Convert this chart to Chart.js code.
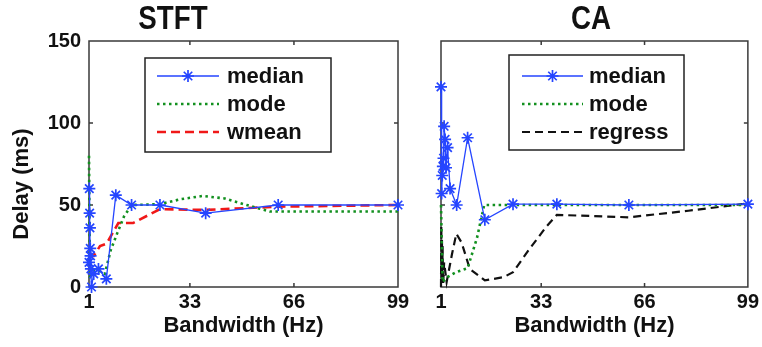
<!DOCTYPE html>
<html><head><meta charset="utf-8">
<script src="https://cdn.jsdelivr.net/npm/chart.js@4.4.0/dist/chart.umd.min.js"></script>
<style>
html,body{margin:0;padding:0;background:#fff;}
#wrap{position:relative;width:762px;height:347px;overflow:hidden;background:#fff;}
#c1{position:absolute;left:0;top:0;}
#c2{position:absolute;left:420px;top:0;}
</style></head><body>
<div id="wrap"><canvas id="c1" width="420" height="347"></canvas><canvas id="c2" width="342" height="347"></canvas></div>
<script>
// ---- data ----
const xTicks = [1, 33, 66, 99];
const yTicks = [0, 50, 100, 150];

const stftMedianX = [1, 1.1, 1.2, 1.3, 1.4, 1.5, 1.6, 1.8, 2.5, 4, 6.5, 9.5, 14.5, 23.5, 38, 61, 99];
const stftMedianY = [15, 60, 45, 36, 23.5, 19, 11, 0, 8, 11, 5, 56, 50, 50, 45, 50, 50];
const stftModeX = [1, 1.3, 2, 4, 6, 7.9, 10, 12.1, 14.5, 23.5, 30, 37, 44, 51, 58.4, 99];
const stftModeY = [80, 5, 10, 10, 8, 22.5, 33, 43, 50, 50.5, 53.5, 55.5, 54, 50, 46, 46];
const stftWmeanX = [1, 1.5, 2.5, 4.5, 6.6, 10.3, 15, 23.5, 38, 61, 99];
const stftWmeanY = [10, 20, 19, 25, 26.5, 39, 39, 47.5, 47, 49, 50];

const caMedianX = [1, 1.2, 1.4, 1.6, 1.8, 2, 2.3, 2.6, 3.1, 3.9, 6, 9.5, 15, 24, 38, 61, 99];
const caMedianY = [122, 57, 68, 73.5, 78.5, 98, 90, 72.7, 85, 60, 50, 91, 41, 50.5, 50.5, 50, 50.5];
const caModeX = [1, 1.5, 3, 5.8, 9.5, 12.5, 14.8, 99];
const caModeY = [50, 3, 6, 9, 11.5, 30, 50, 50];
const caRegressX = [1, 1.1, 1.2, 1.3, 1.4, 1.5, 1.7, 2, 2.8, 4.5, 5.9, 7.6, 10.2, 15, 21, 24, 29, 34.6, 38, 61, 80, 99];
const caRegressY = [0, 37, 5, 30, 3, 25, 2, 15, 3, 20, 32.5, 27, 11, 4, 6, 9, 22.5, 36.7, 44, 42.5, 46.5, 51];

const labelsSTFT = ['median', 'mode', 'wmean'];
const labelsCA = ['median', 'mode', 'regress'];
const titleSTFT = 'STFT';
const titleCA = 'CA';
const xTitle = 'Bandwidth (Hz)';
const yTitle = 'Delay (ms)';

// ---- helpers ----
const FAM = '"Liberation Sans", Arial, Helvetica, sans-serif';
const pts = (xs, ys) => xs.map((x, i) => ({x: x, y: ys[i]}));
const BLUE = '#2545ff', GREEN = '#12901f', RED = '#f01818', BLACK = '#111111';

function medianDs(label, data) {
  return {label, data, borderColor: BLUE, backgroundColor: BLUE, borderWidth: 1.3,
    pointStyle: 'star', pointRadius: 6, pointBorderWidth: 1.7, pointBorderColor: BLUE,
    pointHoverRadius: 6, tension: 0, clip: false};
}
function lineDs(label, data, color, dash, width) {
  return {label, data, borderColor: color, backgroundColor: color, borderWidth: width,
    borderDash: dash, pointRadius: 0, pointHoverRadius: 0, tension: 0, clip: false};
}

const framePlugin = {
  id: 'frame',
  beforeDatasetsDraw(chart) {
    const {ctx, chartArea: a, scales} = chart;
    ctx.save();
    ctx.strokeStyle = '#3a3a3a'; ctx.lineWidth = 1.5; ctx.setLineDash([]);
    ctx.strokeRect(a.left, a.top, a.right - a.left, a.bottom - a.top);
    const L = 4;
    ctx.beginPath();
    scales.x.ticks.forEach(t => {
      const p = scales.x.getPixelForValue(t.value);
      if (p <= a.left + 2 || p >= a.right - 2) return;
      ctx.moveTo(p, a.bottom); ctx.lineTo(p, a.bottom - L);
      ctx.moveTo(p, a.top); ctx.lineTo(p, a.top + L);
    });
    scales.y.ticks.forEach(t => {
      const p = scales.y.getPixelForValue(t.value);
      if (p <= a.top + 2 || p >= a.bottom - 2) return;
      ctx.moveTo(a.left, p); ctx.lineTo(a.left + L, p);
      ctx.moveTo(a.right, p); ctx.lineTo(a.right - L, p);
    });
    ctx.stroke();
    ctx.restore();
  }
};

const legendPlugin = {
  id: 'insideLegend',
  afterDatasetsDraw(chart, args, o) {
    const ctx = chart.ctx, a = chart.chartArea;
    const x0 = a.left + o.x, y0 = a.top + o.y;
    ctx.save();
    ctx.fillStyle = '#fff'; ctx.fillRect(x0, y0, o.w, o.h);
    ctx.strokeStyle = '#222'; ctx.lineWidth = 1.5; ctx.setLineDash([]);
    ctx.strokeRect(x0, y0, o.w, o.h);
    chart.data.datasets.forEach((ds, i) => {
      const y = y0 + o.rowTop + i * o.rowGap;
      ctx.setLineDash(ds.borderDash || []);
      ctx.strokeStyle = ds.borderColor; ctx.lineWidth = ds.borderWidth;
      ctx.beginPath(); ctx.moveTo(x0 + o.l0, y); ctx.lineTo(x0 + o.l1, y); ctx.stroke();
      ctx.setLineDash([]);
      if (ds.pointRadius > 0) {
        ctx.strokeStyle = ds.pointBorderColor; ctx.fillStyle = ds.pointBorderColor;
        ctx.lineWidth = ds.pointBorderWidth;
        Chart.helpers.drawPoint(ctx, {pointStyle: ds.pointStyle, radius: ds.pointRadius, borderWidth: ds.pointBorderWidth, rotation: 0}, x0 + (o.l0 + o.l1) / 2, y);
      }
      ctx.fillStyle = '#111';
      ctx.font = 'bold 22px ' + FAM;
      ctx.textBaseline = 'middle'; ctx.textAlign = 'left';
      ctx.fillText(ds.label, x0 + o.tx, y + 1);
    });
    ctx.restore();
  }
};

const textPlugin = {
  id: 'panelText',
  afterDraw(chart, args, o) {
    const ctx = chart.ctx;
    ctx.save();
    ctx.fillStyle = '#111';
    ctx.textAlign = 'center'; ctx.textBaseline = 'middle';
    if (o.title) {
      ctx.save();
      ctx.translate(o.tx, o.ty);
      ctx.scale(0.84, 1);
      ctx.font = 'bold 33px ' + FAM;
      ctx.fillText(o.title, 0, 0);
      ctx.restore();
    }
    if (o.ytitle) {
      ctx.translate(o.yx, o.yy);
      ctx.rotate(-Math.PI / 2);
      ctx.font = 'bold 22px ' + FAM;
      ctx.fillText(o.ytitle, 0, 0);
    }
    ctx.restore();
  }
};

function makeChart(id, datasets, cfg) {
  return new Chart(document.getElementById(id), {
    type: 'line',
    data: {datasets},
    plugins: [framePlugin, legendPlugin, textPlugin],
    options: {
      responsive: false, animation: false, devicePixelRatio: 1,
      layout: {padding: {left: 0, right: cfg.padRight, top: 41, bottom: 0}},
      plugins: {
        legend: {display: false}, tooltip: {enabled: false}, title: {display: false},
        insideLegend: cfg.legend,
        panelText: cfg.text
      },
      scales: {
        x: {
          type: 'linear', min: 1, max: 99,
          afterBuildTicks: s => { s.ticks = xTicks.map(v => ({value: v})); },
          afterFit: s => { s.height = 60; },
          grid: {display: false, drawTicks: false},
          border: {display: false},
          ticks: {font: {size: 20, weight: 'bold', family: FAM}, color: '#111', padding: 3, maxRotation: 0, autoSkip: false},
          title: {display: true, text: xTitle, color: '#111', font: {size: 22, weight: 'bold', family: FAM}, padding: {top: 0, bottom: 8}}
        },
        y: {
          type: 'linear', min: 0, max: 150,
          afterBuildTicks: s => { s.ticks = yTicks.map(v => ({value: v})); },
          afterFit: s => { s.width = cfg.yWidth; },
          grid: {display: false, drawTicks: false},
          border: {display: false},
          ticks: {display: cfg.yLabels, font: {size: 20, weight: 'bold', family: FAM}, color: '#111', padding: 8}
        }
      }
    }
  });
}

makeChart('c1', [
  medianDs(labelsSTFT[0], pts(stftMedianX, stftMedianY)),
  lineDs(labelsSTFT[1], pts(stftModeX, stftModeY), GREEN, [2.5, 3.5], 2.6),
  lineDs(labelsSTFT[2], pts(stftWmeanX, stftWmeanY), RED, [9, 5], 2.6)
], {
  padRight: 22, yWidth: 89, yLabels: true,
  legend: {x: 56, y: 17, w: 186, h: 94, rowTop: 18, rowGap: 28, l0: 12, l1: 74, tx: 82},
  text: {title: titleSTFT, tx: 173, ty: 20, ytitle: yTitle, yx: 22, yy: 184}
});

makeChart('c2', [
  medianDs(labelsCA[0], pts(caMedianX, caMedianY)),
  lineDs(labelsCA[1], pts(caModeX, caModeY), GREEN, [2.5, 3.5], 2.6),
  lineDs(labelsCA[2], pts(caRegressX, caRegressY), BLACK, [8, 5], 2.2)
], {
  padRight: 14, yWidth: 21, yLabels: false,
  legend: {x: 68, y: 14, w: 175, h: 95, rowTop: 21, rowGap: 28, l0: 13, l1: 74, tx: 80},
  text: {title: titleCA, tx: 171, ty: 20}
});
</script>
</body></html>
